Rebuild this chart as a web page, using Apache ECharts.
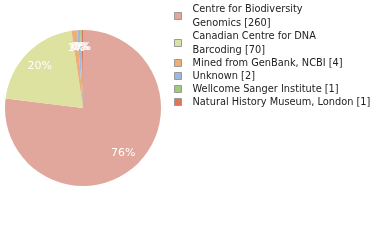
<!DOCTYPE html>
<html><head><meta charset="utf-8">
<script src="https://cdn.jsdelivr.net/npm/echarts@6/dist/echarts.min.js"></script>
<style>html,body{margin:0;padding:0;background:#fff}#c{width:380px;height:240px}</style>
</head><body><div id="c"></div>
<script>
const categories = [
  "Centre for Biodiversity\nGenomics",
  "Canadian Centre for DNA\nBarcoding",
  "Mined from GenBank, NCBI",
  "Unknown",
  "Wellcome Sanger Institute",
  "Natural History Museum, London"
];
const values = [260, 70, 4, 2, 1, 1];
const colors = ["#e1a69c", "#dee2a0", "#efae78", "#9bbadd", "#9fc97e", "#df7658"];

const total = values.reduce((a, b) => a + b, 0);
const data = categories.map((n, i) => ({ name: n, value: values[i], itemStyle: { color: colors[i] } }));
const valueOf = {};
categories.forEach((n, i) => valueOf[n] = values[i]);

const chart = echarts.init(document.getElementById('c'), null, { renderer: 'canvas' });
chart.setOption({
  animation: false,
  legend: {
    orient: 'vertical',
    left: 174, top: 2,
    padding: 0,
    icon: 'rect',
    itemWidth: 7, itemHeight: 7,
    itemGap: -1,
    selectedMode: false,
    itemStyle: { borderColor: '#999', borderWidth: 1 },
    textStyle: { fontFamily: 'DejaVu Sans', fontSize: 9.8, color: '#222', lineHeight: 14, padding: [0, 0, 0, 6] },
    formatter: n => n + ' [' + valueOf[n] + ']',
    data: categories
  },
  series: [
    {
      type: 'pie', center: [83, 108], radius: [0, 78],
      startAngle: 90, clockwise: true, silent: true,
      label: { show: false }, labelLine: { show: false },
      data: data
    },
    {
      type: 'pie', center: [83, 108], radius: [37, 78],
      startAngle: 90, clockwise: true, silent: true,
      minShowLabelAngle: 0,
      avoidLabelOverlap: false,
      labelLayout: { hideOverlap: false },
      itemStyle: { color: 'rgba(0,0,0,0)' },
      label: {
        show: true, position: 'inside', color: '#fff',
        fontFamily: 'DejaVu Sans', fontSize: 11,
        formatter: p => Math.floor(p.value / total * 100) + '%'
      },
      labelLine: { show: false },
      data: categories.map((n, i) => ({ name: n, value: values[i], itemStyle: { color: 'rgba(0,0,0,0)' } }))
    }
  ]
});
</script></body></html>
